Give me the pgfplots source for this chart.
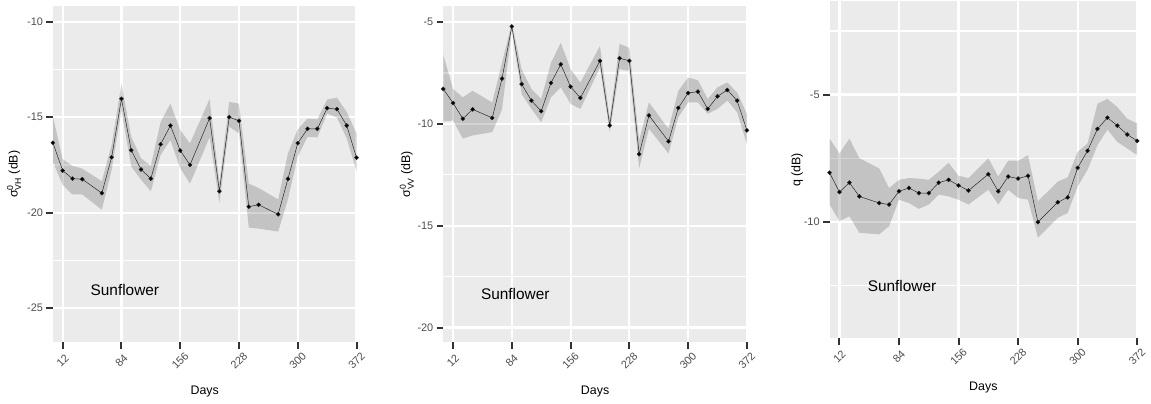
\documentclass[border=0pt]{standalone}
\usepackage{pgfplots}
\pgfplotsset{compat=1.18}
\usepackage{pgfplotstable}
\usepgfplotslibrary{fillbetween}
\usepackage{amsmath}
\usepackage{fontspec}
\setmainfont{Liberation Sans}
\definecolor{panelbg}{RGB}{235,235,235}
\definecolor{tickcol}{RGB}{77,77,77}
\definecolor{tickmk}{RGB}{51,51,51}

\pgfplotstableread{
d m lo hi
0 -16.34 -17.35 -14.95
12 -17.80 -18.55 -17.20
24 -18.22 -19.05 -17.55
36 -18.25 -19.05 -17.70
60 -18.98 -19.85 -18.35
72 -17.10 -17.76 -16.45
84 -14.04 -14.65 -13.25
96 -16.73 -17.58 -16.03
108 -17.74 -18.28 -17.15
120 -18.22 -18.88 -17.55
132 -16.42 -16.98 -15.25
144 -15.44 -16.20 -14.29
156 -16.75 -17.67 -15.68
168 -17.50 -18.48 -16.37
192 -15.05 -16.05 -14.05
204 -18.88 -19.49 -18.45
216 -15.00 -15.50 -14.20
228 -15.19 -15.85 -14.29
240 -19.69 -20.79 -18.48
252 -19.59 -20.84 -18.71
276 -20.09 -20.99 -19.31
288 -18.23 -19.30 -16.89
300 -16.36 -17.06 -15.64
312 -15.61 -16.03 -15.07
324 -15.61 -16.06 -15.12
336 -14.53 -14.81 -14.08
348 -14.58 -15.02 -13.98
360 -15.44 -16.11 -14.73
372 -17.12 -17.84 -15.85
}\tVH

\pgfplotstableread{
d m lo hi
0 -8.29 -9.88 -6.60
12 -8.98 -9.84 -8.29
24 -9.75 -10.73 -8.70
36 -9.29 -10.57 -8.38
60 -9.71 -10.41 -8.95
72 -7.78 -9.30 -7.00
84 -5.22 -5.40 -5.05
96 -8.05 -8.54 -7.32
108 -8.86 -9.27 -8.29
120 -9.38 -9.92 -8.78
132 -7.99 -8.70 -7.00
144 -7.08 -8.21 -6.02
156 -8.18 -9.02 -7.32
168 -8.73 -9.27 -7.97
192 -6.91 -7.24 -6.18
204 -10.08 -10.41 -9.75
216 -6.78 -7.32 -6.07
228 -6.91 -7.40 -6.27
240 -11.49 -12.19 -10.81
252 -9.59 -10.24 -8.95
276 -10.86 -11.46 -10.24
288 -9.22 -9.68 -8.38
300 -8.49 -8.95 -7.73
312 -8.42 -8.95 -7.86
324 -9.27 -9.51 -8.78
336 -8.65 -9.27 -8.21
348 -8.34 -8.86 -7.97
360 -8.86 -9.43 -8.46
372 -10.32 -11.00 -9.51
}\tVV

\pgfplotstableread{
d m lo hi
0 -8.07 -9.32 -6.73
12 -8.83 -9.97 -7.31
24 -8.46 -9.78 -6.73
36 -9.00 -10.43 -7.50
60 -9.26 -10.49 -7.90
72 -9.32 -10.17 -8.67
84 -8.80 -9.13 -8.35
96 -8.67 -9.26 -8.28
108 -8.87 -9.49 -8.30
120 -8.87 -9.32 -8.35
132 -8.46 -8.93 -8.03
144 -8.35 -9.00 -7.68
156 -8.57 -9.13 -8.19
168 -8.77 -9.32 -8.28
192 -8.13 -8.74 -7.50
204 -8.80 -9.32 -8.22
216 -8.22 -8.74 -7.60
228 -8.30 -9.06 -7.60
240 -8.19 -9.13 -7.38
252 -10.01 -10.62 -9.19
276 -9.23 -9.84 -8.42
288 -9.04 -9.65 -8.25
300 -7.88 -8.61 -7.25
312 -7.21 -7.96 -6.92
324 -6.35 -6.99 -5.36
336 -5.91 -6.38 -5.17
348 -6.22 -6.86 -5.49
360 -6.57 -7.12 -5.95
372 -6.82 -7.38 -6.14
}\tQ

\pgfplotsset{
  ggstyle/.style={
    scale only axis, width=306pt, height=339pt,
    anchor=south west,
    xmin=0, xmax=372,
    xtick={12,84,156,228,300,372},
    xticklabels={12,84,156,228,300,372},
    axis background/.style={fill=panelbg},
    axis line style={draw=none},
    grid=both,
    major grid style={white, line width=2.2pt},
    minor grid style={white, line width=1.3pt},
    tick align=outside,
    tick pos=left,
    major tick length=6.5pt,
    minor tick length=0pt,
    every tick label/.append style={font=\fontsize{11}{13}\selectfont, text=tickcol},
    xticklabel style={yshift=-12pt, rotate=45, anchor=center},
    xlabel={Days},
    xlabel style={at={(axis description cs:0.5,-0.1445)}, anchor=center, font=\fontsize{12.5}{15}\selectfont},
    ylabel style={at={(axis description cs:-0.1275,0.5)}, anchor=center, font=\fontsize{12.5}{15}\selectfont},
  },
  ggticks/.style n args={2}{
    after end axis/.append code={
      \foreach \xt in {12,84,156,228,300,372}{
        \draw[draw=tickmk, line width=2pt] (axis cs:\xt,#1) -- ++(0pt,-6.5pt);
      }
      \foreach \yt in {#2}{
        \draw[draw=tickmk, line width=2pt] (axis cs:0,\yt) -- ++(-6.5pt,0pt);
      }
    }
  },
  ribbon/.style={fill=black, fill opacity=0.17, draw=none},
  meanline/.style={black!85, line width=0.5pt, mark=*, mark size=2pt, mark options={fill=black, draw=none}},
}

\begin{document}
\begin{tikzpicture}

% Panel 1
\begin{axis}[ggstyle, at={(53.3pt,62pt)},
  ymin=-26.8, ymax=-9.18,
  ytick={-25,-20,-15,-10}, yticklabels={-25,-20,-15,-10},
  minor ytick={-22.5,-17.5,-12.5},
  ggticks={-26.8}{-25,-20,-15,-10},
  ylabel={σ$^{\text{0}}_{\text{VH}}$ (dB)}]
\addplot[name path=hiA, draw=none, forget plot] table[x=d,y=hi] {\tVH};
\addplot[name path=loA, draw=none, forget plot] table[x=d,y=lo] {\tVH};
\addplot[ribbon] fill between[of=hiA and loA];
\addplot[meanline] table[x=d,y=m] {\tVH};
\node[anchor=west, font=\fontsize{15.5}{18}\selectfont] at (axis cs:42,-24.05) {Sunflower};
\end{axis}

% Panel 2
\begin{axis}[ggstyle, at={(446.7pt,62pt)},
  ymin=-20.73, ymax=-4.22,
  ytick={-20,-15,-10,-5}, yticklabels={-20,-15,-10,-5},
  minor ytick={-17.5,-12.5,-7.5},
  ggticks={-20.73}{-20,-15,-10,-5},
  ylabel={σ$^{\text{0}}_{\text{VV}}$ (dB)},
  ylabel style={at={(axis description cs:-0.12,0.5)}}]
\addplot[name path=hiB, draw=none, forget plot] table[x=d,y=hi] {\tVV};
\addplot[name path=loB, draw=none, forget plot] table[x=d,y=lo] {\tVV};
\addplot[ribbon] fill between[of=hiB and loB];
\addplot[meanline] table[x=d,y=m] {\tVV};
\node[anchor=west, font=\fontsize{15.5}{18}\selectfont] at (axis cs:42,-18.33) {Sunflower};
\end{axis}

% Panel 3
\begin{axis}[ggstyle, at={(836pt,66pt)}, width=310pt, height=340pt,
  ymin=-14.58, ymax=-1.33,
  ytick={-10,-5}, yticklabels={-10,-5},
  minor ytick={-12.5,-7.5,-2.5},
  ggticks={-14.58}{-10,-5},
  ylabel={q (dB)},
  ylabel style={at={(axis description cs:-0.105,0.5)}}]
\addplot[name path=hiC, draw=none, forget plot] table[x=d,y=hi] {\tQ};
\addplot[name path=loC, draw=none, forget plot] table[x=d,y=lo] {\tQ};
\addplot[ribbon] fill between[of=hiC and loC];
\addplot[meanline] table[x=d,y=m] {\tQ};
\node[anchor=west, font=\fontsize{15.5}{18}\selectfont] at (axis cs:42,-12.53) {Sunflower};
\end{axis}
\path (0,0) rectangle (1151pt,406pt);
\end{tikzpicture}
\end{document}
